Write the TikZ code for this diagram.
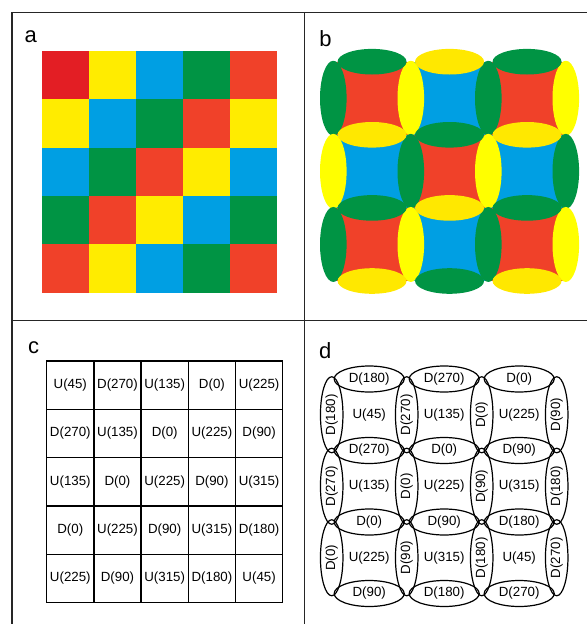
\documentclass[tikz,border=0pt]{standalone}
\usepackage{fontspec}
\setmainfont{Liberation Sans}
\usetikzlibrary{shapes.geometric}

\definecolor{acol0}{HTML}{F04129}
\definecolor{acol1}{HTML}{FFEC00}
\definecolor{acol2}{HTML}{009FE3}
\definecolor{acol3}{HTML}{009444}
\definecolor{adred}{HTML}{E31E24}
\definecolor{bsq0}{HTML}{F04129}
\definecolor{bsq1}{HTML}{009FE3}
\definecolor{bv0}{HTML}{009444}
\definecolor{bv1}{HTML}{FFFF00}
\definecolor{bh0}{HTML}{009444}
\definecolor{bh1}{HTML}{FFE800}

\begin{document}
\begin{tikzpicture}[x=1pt, y=-1pt,
  frame/.style={black!85, line width=1.9pt},
  panel/.style={font=\fontsize{22}{24}\selectfont, anchor=base, inner sep=0pt},
  cellbox/.style={draw, line width=1.3pt, minimum width=47.2pt, minimum height=48.33pt,
    inner sep=0pt, font=\fontsize{13.3}{15}\selectfont},
  hell/.style={draw, ellipse, line width=1.2pt, minimum width=70pt, minimum height=26pt,
    inner sep=0pt, font=\fontsize{13.3}{15}\selectfont},
  vell/.style={hell, rotate=90, minimum width=76pt, minimum height=22.5pt},
  utext/.style={inner sep=0pt, font=\fontsize{13.3}{15}\selectfont}]
  \useasboundingbox (0,0) rectangle (587,624);
  % Frame
  \draw[frame] (12,624) -- (12,12.5) -- (587,12.5);
  \draw[frame] (304.5,12.5) -- (304.5,624);
  \draw[frame] (12,320.5) -- (587,320.5);
  % Panel labels
  \node[panel] (la) at (30.8,42.7) {a};
  \node[panel] (lb) at (325.5,46.7) {b};
  \node[panel] (lc) at (33.7,353.3) {c};
  \node[panel] (ld) at (325.2,358) {d};
  % a: coloured grid
  \foreach \r in {0,...,4}
    \foreach \c in {0,...,4} {
      \pgfmathtruncatemacro\k{mod(\r+\c,4)}
      \fill[acol\k] (41.7+47.06*\c, 51+48.33*\r) rectangle +(47.06,48.33);
    }
  \fill[adred] (41.7,51) rectangle +(47.06,48.33);
  % b: squares
  \foreach \r in {0,1,2}
    \foreach \c in {0,1,2} {
      \pgfmathtruncatemacro\k{mod(\r+\c,2)}
      \fill[bsq\k] (333.3+77.5*\c, 61.7+73.1*\r) rectangle +(77.5,73.1);
    }
  % b: vertical ellipses
  \foreach \r in {0,1,2}
    \foreach \c in {0,...,3} {
      \pgfmathtruncatemacro\k{mod(\r+\c,2)}
      \fill[bv\k] (333.3+77.5*\c, 98.25+73.1*\r) ellipse [x radius=13.3, y radius=37.5];
    }
  % b: horizontal ellipses
  \foreach \r in {0,...,3}
    \foreach \c in {0,1,2} {
      \pgfmathtruncatemacro\k{mod(\r+\c,2)}
      \fill[bh\k] (372.05+77.5*\c, 61.7+73.1*\r) ellipse [x radius=34.5, y radius=12.8];
    }
  % c: labelled grid
  \foreach \row [count=\r from 0] in {{U(45),D(270),U(135),D(0),U(225)},
      {D(270),U(135),D(0),U(225),D(90)}, {U(135),D(0),U(225),D(90),U(315)},
      {D(0),U(225),D(90),U(315),D(180)}, {U(225),D(90),U(315),D(180),U(45)}}
    \foreach \t [count=\c from 0] in \row
      \node[cellbox] (c-\r-\c) at (70.3+47.2*\c, 385.17+48.33*\r) {\t};
  % d: centres
  \foreach \row [count=\r from 0] in {{U(45),U(135),U(225)},
      {U(135),U(225),U(315)}, {U(225),U(315),U(45)}}
    \foreach \t [count=\c from 0] in \row
      \node[utext] (u-\r-\c) at (369.2+75*\c, 414.75+71.5*\r) {\t};
  % d: horizontal ellipses
  \foreach \row [count=\r from 0] in {{D(180),D(270),D(0)}, {D(270),D(0),D(90)},
      {D(0),D(90),D(180)}, {D(90),D(180),D(270)}}
    \foreach \t [count=\c from 0] in \row
      \node[hell] (h-\r-\c) at (369.2+75*\c, 379+71.5*\r) {\t};
  % d: vertical ellipses
  \foreach \row [count=\r from 0] in {{D(180),D(270),D(0),D(90)},
      {D(270),D(0),D(90),D(180)}, {D(0),D(90),D(180),D(270)}}
    \foreach \t [count=\c from 0] in \row
      \node[vell] (v-\r-\c) at (331.7+75*\c, 414.75+71.5*\r) {\t};
\end{tikzpicture}
\end{document}
